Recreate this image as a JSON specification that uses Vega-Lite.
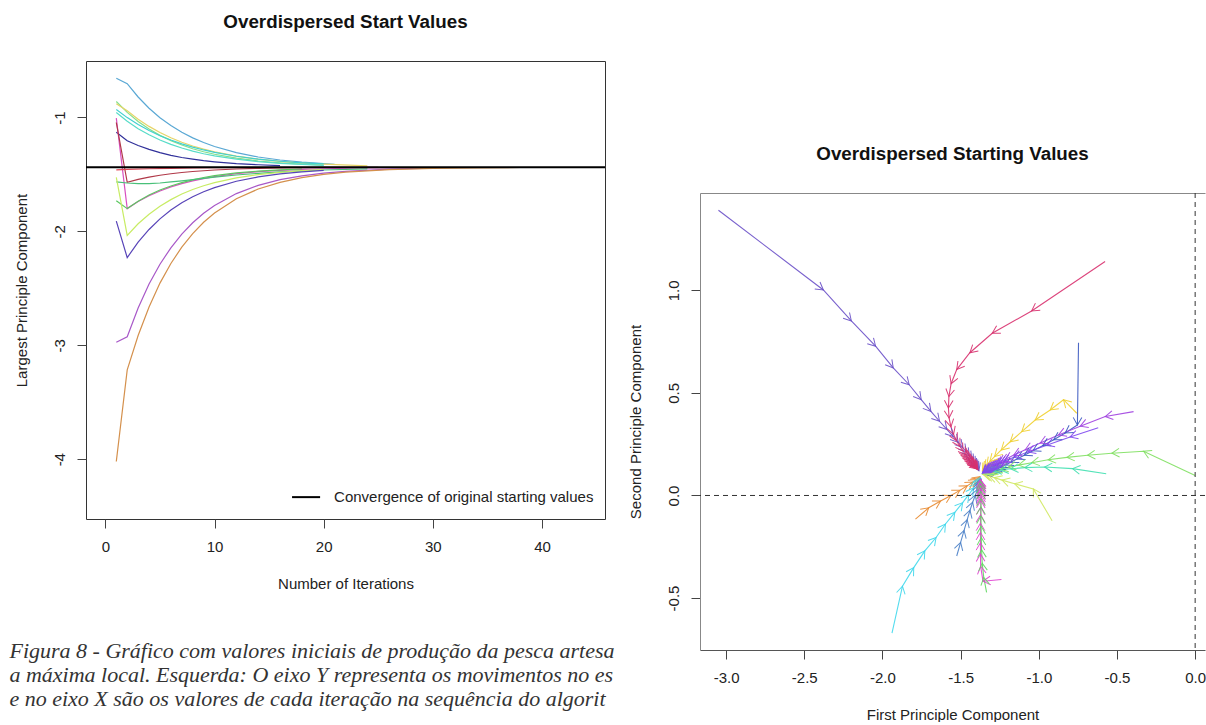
{
  "$schema": "https://vega.github.io/schema/vega-lite/v6.json",
  "padding": {"left": 8, "top": 12, "right": 0, "bottom": 0},
  "spacing": 7,
  "resolve": {"scale": {"color": "independent"}},
  "config": {
    "view": {"stroke": null},
    "font": "Liberation Sans",
    "title": {"fontSize": 18.8, "fontWeight": "bold", "color": "#111", "offset": 29},
    "axis": {
      "grid": false, "labelFontSize": 15, "titleFontSize": 15, "titleFontWeight": "normal",
      "labelColor": "#222", "titleColor": "#222", "tickColor": "#444", "domainColor": "#444",
      "tickSize": 9, "labelPadding": 11, "titlePadding": 22
    }
  },
  "datasets": {
    "left": [
      {"s":"A","x":1,"y":-0.655},{"s":"A","x":2,"y":-0.703},{"s":"A","x":3,"y":-0.820},{"s":"A","x":4,"y":-0.919},{"s":"A","x":5,"y":-1.002},{"s":"A","x":6,"y":-1.071},{"s":"A","x":7,"y":-1.130},{"s":"A","x":8,"y":-1.179},{"s":"A","x":9,"y":-1.220},{"s":"A","x":10,"y":-1.255},{"s":"A","x":12,"y":-1.309},{"s":"A","x":14,"y":-1.347},{"s":"A","x":16,"y":-1.373},{"s":"A","x":18,"y":-1.392},{"s":"A","x":20,"y":-1.405},{"s":"A","x":21,"y":-1.412},
      {"s":"B","x":1,"y":-0.860},{"s":"B","x":2,"y":-0.955},{"s":"B","x":3,"y":-1.035},{"s":"B","x":4,"y":-1.101},{"s":"B","x":5,"y":-1.157},{"s":"B","x":6,"y":-1.203},{"s":"B","x":7,"y":-1.241},{"s":"B","x":8,"y":-1.274},{"s":"B","x":9,"y":-1.301},{"s":"B","x":10,"y":-1.323},{"s":"B","x":12,"y":-1.357},{"s":"B","x":14,"y":-1.382},{"s":"B","x":16,"y":-1.398},{"s":"B","x":18,"y":-1.410},{"s":"B","x":20,"y":-1.418},
      {"s":"C","x":1,"y":-0.880},{"s":"C","x":2,"y":-0.940},{"s":"C","x":3,"y":-1.015},{"s":"C","x":4,"y":-1.078},{"s":"C","x":5,"y":-1.132},{"s":"C","x":6,"y":-1.178},{"s":"C","x":7,"y":-1.217},{"s":"C","x":8,"y":-1.250},{"s":"C","x":9,"y":-1.278},{"s":"C","x":10,"y":-1.302},{"s":"C","x":12,"y":-1.339},{"s":"C","x":14,"y":-1.366},{"s":"C","x":16,"y":-1.386},{"s":"C","x":18,"y":-1.400},{"s":"C","x":20,"y":-1.410},{"s":"C","x":24,"y":-1.425},
      {"s":"D","x":1,"y":-0.956},{"s":"D","x":2,"y":-1.033},{"s":"D","x":3,"y":-1.098},{"s":"D","x":4,"y":-1.152},{"s":"D","x":5,"y":-1.198},{"s":"D","x":6,"y":-1.236},{"s":"D","x":7,"y":-1.268},{"s":"D","x":8,"y":-1.295},{"s":"D","x":9,"y":-1.318},{"s":"D","x":10,"y":-1.337},{"s":"D","x":12,"y":-1.366},{"s":"D","x":14,"y":-1.387},{"s":"D","x":16,"y":-1.402},{"s":"D","x":18,"y":-1.412},{"s":"D","x":20,"y":-1.420},
      {"s":"E","x":1,"y":-0.930},{"s":"E","x":2,"y":-1.001},{"s":"E","x":3,"y":-1.062},{"s":"E","x":4,"y":-1.114},{"s":"E","x":5,"y":-1.160},{"s":"E","x":6,"y":-1.198},{"s":"E","x":7,"y":-1.232},{"s":"E","x":8,"y":-1.260},{"s":"E","x":9,"y":-1.285},{"s":"E","x":10,"y":-1.306},{"s":"E","x":12,"y":-1.340},{"s":"E","x":14,"y":-1.366},{"s":"E","x":16,"y":-1.384},{"s":"E","x":18,"y":-1.398},{"s":"E","x":20,"y":-1.408},
      {"s":"F","x":1,"y":-1.130},{"s":"F","x":2,"y":-1.204},{"s":"F","x":3,"y":-1.246},{"s":"F","x":4,"y":-1.280},{"s":"F","x":5,"y":-1.309},{"s":"F","x":6,"y":-1.332},{"s":"F","x":7,"y":-1.351},{"s":"F","x":8,"y":-1.366},{"s":"F","x":9,"y":-1.379},{"s":"F","x":10,"y":-1.389},{"s":"F","x":12,"y":-1.405},{"s":"F","x":14,"y":-1.415},{"s":"F","x":16,"y":-1.422},
      {"s":"G","x":1,"y":-1.005},{"s":"G","x":2,"y":-1.800},{"s":"G","x":3,"y":-1.738},{"s":"G","x":4,"y":-1.687},{"s":"G","x":5,"y":-1.645},{"s":"G","x":6,"y":-1.609},{"s":"G","x":7,"y":-1.580},{"s":"G","x":8,"y":-1.556},{"s":"G","x":9,"y":-1.536},{"s":"G","x":10,"y":-1.519},{"s":"G","x":12,"y":-1.493},{"s":"G","x":14,"y":-1.476},{"s":"G","x":16,"y":-1.464},{"s":"G","x":18,"y":-1.455},{"s":"G","x":20,"y":-1.450},{"s":"G","x":24,"y":-1.443},{"s":"G","x":28,"y":-1.440},
      {"s":"G2","x":1,"y":-1.730},{"s":"G2","x":2,"y":-1.800},{"s":"G2","x":3,"y":-1.735},{"s":"G2","x":4,"y":-1.681},{"s":"G2","x":5,"y":-1.637},{"s":"G2","x":6,"y":-1.601},{"s":"G2","x":7,"y":-1.572},{"s":"G2","x":8,"y":-1.547},{"s":"G2","x":9,"y":-1.527},{"s":"G2","x":10,"y":-1.511},{"s":"G2","x":12,"y":-1.487},{"s":"G2","x":14,"y":-1.471},{"s":"G2","x":16,"y":-1.460},{"s":"G2","x":18,"y":-1.452},
      {"s":"H","x":1,"y":-1.044},{"s":"H","x":2,"y":-1.569},{"s":"H","x":3,"y":-1.544},{"s":"H","x":4,"y":-1.524},{"s":"H","x":5,"y":-1.507},{"s":"H","x":6,"y":-1.494},{"s":"H","x":7,"y":-1.483},{"s":"H","x":8,"y":-1.474},{"s":"H","x":10,"y":-1.461},{"s":"H","x":12,"y":-1.452},{"s":"H","x":14,"y":-1.446},{"s":"H","x":16,"y":-1.442},{"s":"H","x":20,"y":-1.439},
      {"s":"H2","x":1,"y":-1.565},{"s":"H2","x":2,"y":-1.575},{"s":"H2","x":3,"y":-1.580},{"s":"H2","x":4,"y":-1.580},{"s":"H2","x":5,"y":-1.575},{"s":"H2","x":6,"y":-1.566},{"s":"H2","x":7,"y":-1.556},{"s":"H2","x":8,"y":-1.545},{"s":"H2","x":10,"y":-1.524},{"s":"H2","x":12,"y":-1.505},{"s":"H2","x":14,"y":-1.490},{"s":"H2","x":16,"y":-1.478},{"s":"H2","x":18,"y":-1.468},{"s":"H2","x":20,"y":-1.461},{"s":"H2","x":24,"y":-1.451},
      {"s":"I","x":1,"y":-1.460},{"s":"I","x":2,"y":-1.456},{"s":"I","x":4,"y":-1.450},{"s":"I","x":6,"y":-1.446},{"s":"I","x":8,"y":-1.443},{"s":"I","x":10,"y":-1.441},{"s":"I","x":14,"y":-1.439},{"s":"I","x":20,"y":-1.438},{"s":"I","x":25,"y":-1.437},
      {"s":"J","x":1,"y":-1.525},{"s":"J","x":2,"y":-2.035},{"s":"J","x":3,"y":-1.933},{"s":"J","x":4,"y":-1.849},{"s":"J","x":5,"y":-1.779},{"s":"J","x":6,"y":-1.721},{"s":"J","x":7,"y":-1.672},{"s":"J","x":8,"y":-1.632},{"s":"J","x":9,"y":-1.599},{"s":"J","x":10,"y":-1.572},{"s":"J","x":12,"y":-1.530},{"s":"J","x":14,"y":-1.501},{"s":"J","x":16,"y":-1.481},{"s":"J","x":18,"y":-1.467},{"s":"J","x":20,"y":-1.458},
      {"s":"K","x":1,"y":-1.910},{"s":"K","x":2,"y":-2.230},{"s":"K","x":3,"y":-2.095},{"s":"K","x":4,"y":-1.983},{"s":"K","x":5,"y":-1.890},{"s":"K","x":6,"y":-1.813},{"s":"K","x":7,"y":-1.749},{"s":"K","x":8,"y":-1.696},{"s":"K","x":9,"y":-1.652},{"s":"K","x":10,"y":-1.616},{"s":"K","x":12,"y":-1.560},{"s":"K","x":14,"y":-1.522},{"s":"K","x":16,"y":-1.495},{"s":"K","x":18,"y":-1.477},{"s":"K","x":20,"y":-1.465},
      {"s":"L","x":1,"y":-2.974},{"s":"L","x":2,"y":-2.925},{"s":"L","x":3,"y":-2.672},{"s":"L","x":4,"y":-2.462},{"s":"L","x":5,"y":-2.288},{"s":"L","x":6,"y":-2.144},{"s":"L","x":7,"y":-2.024},{"s":"L","x":8,"y":-1.924},{"s":"L","x":9,"y":-1.841},{"s":"L","x":10,"y":-1.772},{"s":"L","x":12,"y":-1.668},{"s":"L","x":14,"y":-1.596},{"s":"L","x":16,"y":-1.546},{"s":"L","x":18,"y":-1.513},{"s":"L","x":20,"y":-1.489},{"s":"L","x":22,"y":-1.473},{"s":"L","x":26,"y":-1.454},{"s":"L","x":30,"y":-1.445},
      {"s":"M","x":1,"y":-4.020},{"s":"M","x":2,"y":-3.216},{"s":"M","x":3,"y":-2.914},{"s":"M","x":4,"y":-2.663},{"s":"M","x":5,"y":-2.454},{"s":"M","x":6,"y":-2.282},{"s":"M","x":7,"y":-2.138},{"s":"M","x":8,"y":-2.019},{"s":"M","x":9,"y":-1.920},{"s":"M","x":10,"y":-1.838},{"s":"M","x":12,"y":-1.713},{"s":"M","x":14,"y":-1.628},{"s":"M","x":16,"y":-1.569},{"s":"M","x":18,"y":-1.528},{"s":"M","x":20,"y":-1.500},{"s":"M","x":22,"y":-1.480},{"s":"M","x":26,"y":-1.458},{"s":"M","x":30,"y":-1.447},{"s":"M","x":34,"y":-1.442},{"s":"M","x":38,"y":-1.439}
    ],
    "right": [
      {"t":"T1","i":0,"x":-3.049,"y":1.391},{"t":"T1","i":1,"x":-2.378,"y":1.002},{"t":"T1","i":2,"x":-2.199,"y":0.851},{"t":"T1","i":3,"x":-2.044,"y":0.728},{"t":"T1","i":4,"x":-1.931,"y":0.622},{"t":"T1","i":5,"x":-1.829,"y":0.540},{"t":"T1","i":6,"x":-1.752,"y":0.467},{"t":"T1","i":7,"x":-1.690,"y":0.410},{"t":"T1","i":8,"x":-1.635,"y":0.362},{"t":"T1","i":9,"x":-1.588,"y":0.322},{"t":"T1","i":10,"x":-1.548,"y":0.288},{"t":"T1","i":11,"x":-1.515,"y":0.259},{"t":"T1","i":12,"x":-1.487,"y":0.234},{"t":"T1","i":13,"x":-1.463,"y":0.212},{"t":"T1","i":14,"x":-1.444,"y":0.193},{"t":"T1","i":15,"x":-1.428,"y":0.177},{"t":"T1","i":16,"x":-1.415,"y":0.163},{"t":"T1","i":17,"x":-1.405,"y":0.151},{"t":"T1","i":18,"x":-1.397,"y":0.141},{"t":"T1","i":19,"x":-1.391,"y":0.133},{"t":"T1","i":20,"x":-1.386,"y":0.126},{"t":"T1","i":21,"x":-1.383,"y":0.120},
      {"t":"T2","i":0,"x":-0.576,"y":1.141},{"t":"T2","i":1,"x":-1.046,"y":0.900},{"t":"T2","i":2,"x":-1.298,"y":0.791},{"t":"T2","i":3,"x":-1.441,"y":0.696},{"t":"T2","i":4,"x":-1.525,"y":0.614},{"t":"T2","i":5,"x":-1.561,"y":0.545},{"t":"T2","i":6,"x":-1.575,"y":0.482},{"t":"T2","i":7,"x":-1.578,"y":0.427},{"t":"T2","i":8,"x":-1.574,"y":0.378},{"t":"T2","i":9,"x":-1.562,"y":0.335},{"t":"T2","i":10,"x":-1.545,"y":0.298},{"t":"T2","i":11,"x":-1.525,"y":0.266},{"t":"T2","i":12,"x":-1.504,"y":0.239},{"t":"T2","i":13,"x":-1.484,"y":0.216},{"t":"T2","i":14,"x":-1.466,"y":0.197},{"t":"T2","i":15,"x":-1.458,"y":0.189},{"t":"T2","i":16,"x":-1.450,"y":0.181},{"t":"T2","i":17,"x":-1.443,"y":0.174},{"t":"T2","i":18,"x":-1.436,"y":0.168},{"t":"T2","i":19,"x":-1.430,"y":0.162},{"t":"T2","i":20,"x":-1.424,"y":0.157},{"t":"T2","i":21,"x":-1.419,"y":0.152},{"t":"T2","i":22,"x":-1.414,"y":0.148},{"t":"T2","i":23,"x":-1.410,"y":0.144},{"t":"T2","i":24,"x":-1.406,"y":0.141},{"t":"T2","i":25,"x":-1.402,"y":0.138},{"t":"T2","i":26,"x":-1.399,"y":0.135},{"t":"T2","i":27,"x":-1.396,"y":0.132},{"t":"T2","i":28,"x":-1.393,"y":0.130},{"t":"T2","i":29,"x":-1.391,"y":0.128},{"t":"T2","i":30,"x":-1.389,"y":0.126},
      {"t":"T3","i":0,"x":-0.746,"y":0.745},{"t":"T3","i":1,"x":-0.753,"y":0.344},{"t":"T3","i":2,"x":-0.831,"y":0.305},{"t":"T3","i":3,"x":-0.905,"y":0.272},{"t":"T3","i":4,"x":-0.975,"y":0.243},{"t":"T3","i":5,"x":-1.038,"y":0.218},{"t":"T3","i":6,"x":-1.093,"y":0.196},{"t":"T3","i":7,"x":-1.140,"y":0.178},{"t":"T3","i":8,"x":-1.180,"y":0.162},{"t":"T3","i":9,"x":-1.214,"y":0.149},{"t":"T3","i":10,"x":-1.243,"y":0.138},{"t":"T3","i":11,"x":-1.267,"y":0.129},{"t":"T3","i":12,"x":-1.288,"y":0.122},{"t":"T3","i":13,"x":-1.305,"y":0.116},{"t":"T3","i":14,"x":-1.320,"y":0.111},{"t":"T3","i":15,"x":-1.332,"y":0.107},{"t":"T3","i":16,"x":-1.342,"y":0.104},{"t":"T3","i":17,"x":-1.350,"y":0.102},
      {"t":"T4","i":0,"x":-0.394,"y":0.409},{"t":"T4","i":1,"x":-0.575,"y":0.385},{"t":"T4","i":2,"x":-0.735,"y":0.338},{"t":"T4","i":3,"x":-0.874,"y":0.295},{"t":"T4","i":4,"x":-0.991,"y":0.256},{"t":"T4","i":5,"x":-1.087,"y":0.223},{"t":"T4","i":6,"x":-1.160,"y":0.197},{"t":"T4","i":7,"x":-1.215,"y":0.176},{"t":"T4","i":8,"x":-1.238,"y":0.168},{"t":"T4","i":9,"x":-1.255,"y":0.160},{"t":"T4","i":10,"x":-1.271,"y":0.153},{"t":"T4","i":11,"x":-1.285,"y":0.147},{"t":"T4","i":12,"x":-1.297,"y":0.142},{"t":"T4","i":13,"x":-1.308,"y":0.137},{"t":"T4","i":14,"x":-1.317,"y":0.133},{"t":"T4","i":15,"x":-1.325,"y":0.129},{"t":"T4","i":16,"x":-1.332,"y":0.126},{"t":"T4","i":17,"x":-1.338,"y":0.123},{"t":"T4","i":18,"x":-1.343,"y":0.120},{"t":"T4","i":19,"x":-1.348,"y":0.118},{"t":"T4","i":20,"x":-1.352,"y":0.116},{"t":"T4","i":21,"x":-1.355,"y":0.114},
      {"t":"T5","i":0,"x":-0.757,"y":0.401},{"t":"T5","i":1,"x":-0.842,"y":0.467},{"t":"T5","i":2,"x":-0.927,"y":0.417},{"t":"T5","i":3,"x":-1.023,"y":0.368},{"t":"T5","i":4,"x":-1.109,"y":0.311},{"t":"T5","i":5,"x":-1.183,"y":0.262},{"t":"T5","i":6,"x":-1.240,"y":0.222},{"t":"T5","i":7,"x":-1.283,"y":0.190},{"t":"T5","i":8,"x":-1.313,"y":0.166},{"t":"T5","i":9,"x":-1.333,"y":0.148},{"t":"T5","i":10,"x":-1.346,"y":0.135},{"t":"T5","i":11,"x":-1.355,"y":0.126},{"t":"T5","i":12,"x":-1.361,"y":0.119},
      {"t":"T6","i":0,"x":0.0,"y":0.098},{"t":"T6","i":1,"x":-0.330,"y":0.216},{"t":"T6","i":2,"x":-0.533,"y":0.206},{"t":"T6","i":3,"x":-0.688,"y":0.196},{"t":"T6","i":4,"x":-0.820,"y":0.186},{"t":"T6","i":5,"x":-0.940,"y":0.174},{"t":"T6","i":6,"x":-1.045,"y":0.160},{"t":"T6","i":7,"x":-1.130,"y":0.148},{"t":"T6","i":8,"x":-1.195,"y":0.137},{"t":"T6","i":9,"x":-1.245,"y":0.128},{"t":"T6","i":10,"x":-1.282,"y":0.121},{"t":"T6","i":11,"x":-1.310,"y":0.116},{"t":"T6","i":12,"x":-1.330,"y":0.112},{"t":"T6","i":13,"x":-1.345,"y":0.109},{"t":"T6","i":14,"x":-1.355,"y":0.106},
      {"t":"T7","i":0,"x":-0.569,"y":0.106},{"t":"T7","i":1,"x":-0.784,"y":0.131},{"t":"T7","i":2,"x":-0.963,"y":0.139},{"t":"T7","i":3,"x":-1.090,"y":0.136},{"t":"T7","i":4,"x":-1.180,"y":0.130},{"t":"T7","i":5,"x":-1.243,"y":0.124},{"t":"T7","i":6,"x":-1.287,"y":0.119},{"t":"T7","i":7,"x":-1.317,"y":0.115},{"t":"T7","i":8,"x":-1.338,"y":0.111},{"t":"T7","i":9,"x":-1.352,"y":0.108},{"t":"T7","i":10,"x":-1.361,"y":0.105},
      {"t":"T8","i":0,"x":-0.915,"y":-0.123},{"t":"T8","i":1,"x":-1.035,"y":0.032},{"t":"T8","i":2,"x":-1.155,"y":0.057},{"t":"T8","i":3,"x":-1.235,"y":0.075},{"t":"T8","i":4,"x":-1.285,"y":0.087},{"t":"T8","i":5,"x":-1.318,"y":0.095},{"t":"T8","i":6,"x":-1.338,"y":0.100},{"t":"T8","i":7,"x":-1.351,"y":0.103},{"t":"T8","i":8,"x":-1.360,"y":0.104},
      {"t":"T9","i":0,"x":-1.789,"y":-0.115},{"t":"T9","i":1,"x":-1.704,"y":-0.060},{"t":"T9","i":2,"x":-1.628,"y":-0.027},{"t":"T9","i":3,"x":-1.562,"y":0.000},{"t":"T9","i":4,"x":-1.505,"y":0.025},{"t":"T9","i":5,"x":-1.458,"y":0.047},{"t":"T9","i":6,"x":-1.421,"y":0.066},{"t":"T9","i":7,"x":-1.398,"y":0.078},{"t":"T9","i":8,"x":-1.384,"y":0.087},{"t":"T9","i":9,"x":-1.376,"y":0.092},
      {"t":"T10","i":0,"x":-1.939,"y":-0.671},{"t":"T10","i":1,"x":-1.872,"y":-0.442},{"t":"T10","i":2,"x":-1.800,"y":-0.352},{"t":"T10","i":3,"x":-1.729,"y":-0.270},{"t":"T10","i":4,"x":-1.657,"y":-0.205},{"t":"T10","i":5,"x":-1.597,"y":-0.139},{"t":"T10","i":6,"x":-1.537,"y":-0.082},{"t":"T10","i":7,"x":-1.487,"y":-0.035},{"t":"T10","i":8,"x":-1.447,"y":0.005},{"t":"T10","i":9,"x":-1.417,"y":0.037},{"t":"T10","i":10,"x":-1.395,"y":0.061},{"t":"T10","i":11,"x":-1.382,"y":0.077},{"t":"T10","i":12,"x":-1.374,"y":0.088},
      {"t":"T11","i":0,"x":-1.525,"y":-0.295},{"t":"T11","i":1,"x":-1.500,"y":-0.229},{"t":"T11","i":2,"x":-1.478,"y":-0.170},{"t":"T11","i":3,"x":-1.458,"y":-0.118},{"t":"T11","i":4,"x":-1.440,"y":-0.072},{"t":"T11","i":5,"x":-1.423,"y":-0.033},{"t":"T11","i":6,"x":-1.406,"y":0.002},{"t":"T11","i":7,"x":-1.392,"y":0.030},{"t":"T11","i":8,"x":-1.382,"y":0.053},{"t":"T11","i":9,"x":-1.375,"y":0.070},{"t":"T11","i":10,"x":-1.370,"y":0.082},
      {"t":"T12","i":0,"x":-1.239,"y":-0.410},{"t":"T12","i":1,"x":-1.357,"y":-0.418},{"t":"T12","i":2,"x":-1.372,"y":-0.345},{"t":"T12","i":3,"x":-1.373,"y":-0.285},{"t":"T12","i":4,"x":-1.373,"y":-0.230},{"t":"T12","i":5,"x":-1.373,"y":-0.180},{"t":"T12","i":6,"x":-1.373,"y":-0.135},{"t":"T12","i":7,"x":-1.372,"y":-0.094},{"t":"T12","i":8,"x":-1.371,"y":-0.057},{"t":"T12","i":9,"x":-1.370,"y":-0.024},{"t":"T12","i":10,"x":-1.369,"y":-0.008},{"t":"T12","i":11,"x":-1.369,"y":0.005},{"t":"T12","i":12,"x":-1.369,"y":0.017},{"t":"T12","i":13,"x":-1.369,"y":0.028},{"t":"T12","i":14,"x":-1.369,"y":0.037},{"t":"T12","i":15,"x":-1.369,"y":0.046},{"t":"T12","i":16,"x":-1.370,"y":0.053},{"t":"T12","i":17,"x":-1.370,"y":0.060},{"t":"T12","i":18,"x":-1.371,"y":0.066},{"t":"T12","i":19,"x":-1.371,"y":0.071},{"t":"T12","i":20,"x":-1.372,"y":0.076},{"t":"T12","i":21,"x":-1.372,"y":0.080},
      {"t":"T13","i":0,"x":-1.334,"y":-0.472},{"t":"T13","i":1,"x":-1.352,"y":-0.400},{"t":"T13","i":2,"x":-1.362,"y":-0.330},{"t":"T13","i":3,"x":-1.366,"y":-0.265},{"t":"T13","i":4,"x":-1.368,"y":-0.205},{"t":"T13","i":5,"x":-1.369,"y":-0.150},{"t":"T13","i":6,"x":-1.370,"y":-0.100},{"t":"T13","i":7,"x":-1.370,"y":-0.055},{"t":"T13","i":8,"x":-1.370,"y":-0.015},{"t":"T13","i":9,"x":-1.370,"y":0.020},{"t":"T13","i":10,"x":-1.371,"y":0.048},{"t":"T13","i":11,"x":-1.372,"y":0.068},
      {"t":"T14","i":0,"x":-0.620,"y":0.330},{"t":"T14","i":1,"x":-0.800,"y":0.285},{"t":"T14","i":2,"x":-0.950,"y":0.245},{"t":"T14","i":3,"x":-1.070,"y":0.212},{"t":"T14","i":4,"x":-1.160,"y":0.186},{"t":"T14","i":5,"x":-1.225,"y":0.165},{"t":"T14","i":6,"x":-1.250,"y":0.157},{"t":"T14","i":7,"x":-1.270,"y":0.149},{"t":"T14","i":8,"x":-1.286,"y":0.143},{"t":"T14","i":9,"x":-1.300,"y":0.137},{"t":"T14","i":10,"x":-1.312,"y":0.132},{"t":"T14","i":11,"x":-1.322,"y":0.128},{"t":"T14","i":12,"x":-1.331,"y":0.124},{"t":"T14","i":13,"x":-1.338,"y":0.121},{"t":"T14","i":14,"x":-1.344,"y":0.118},{"t":"T14","i":15,"x":-1.349,"y":0.116},{"t":"T14","i":16,"x":-1.354,"y":0.114},{"t":"T14","i":17,"x":-1.357,"y":0.112},{"t":"T14","i":18,"x":-1.360,"y":0.110},{"t":"T14","i":19,"x":-1.362,"y":0.109}
    ]
  },
  "hconcat": [
    {
      "width": 519,
      "height": 458,
      "title": "Overdispersed Start Values",
      "view": {"stroke": "#333", "strokeWidth": 1},
      "layer": [
        {
          "data": {"name": "left"},
          "mark": {"type": "line", "strokeWidth": 1.2},
          "encoding": {
            "x": {"field": "x", "type": "quantitative", "scale": {"domain": [-1.776, 45.77], "nice": false, "zero": false},
                  "axis": {"values": [0, 10, 20, 30, 40], "title": "Number of Iterations", "domain": false}},
            "y": {"field": "y", "type": "quantitative", "scale": {"domain": [-4.525, -0.504], "nice": false, "zero": false},
                  "axis": {"values": [-1, -2, -3, -4], "title": "Largest Principle Component", "domain": false, "labelAngle": -90, "labelAlign": "center", "labelBaseline": "bottom", "labelPadding": 10, "titlePadding": 23, "labelExpr": "replace(datum.label, '\u2212', '-')"}},
            "color": {"field": "s", "type": "nominal", "legend": null,
                      "scale": {"domain": ["A","B","C","D","E","F","G","G2","H","H2","I","J","K","L","M"],
                                "range": ["#5aa8d4","#86e08a","#e6d468","#58dcc8","#40d0d0","#30309a","#d850c0","#5cc860","#b03848","#48c078","#e04858","#c8ec64","#5844b8","#a858c8","#d4904c"]}},
            "detail": {"field": "s"},
            "order": {"field": "x", "type": "quantitative"}
          }
        },
        {
          "data": {"values": [{"y": -1.437}]},
          "mark": {"type": "rule", "strokeWidth": 2, "color": "#000000"},
          "encoding": {
            "y": {"field": "y", "type": "quantitative", "scale": {"domain": [-4.525, -0.504], "nice": false, "zero": false},
                  "axis": {"values": [-1, -2, -3, -4], "title": "Largest Principle Component", "domain": false, "labelAngle": -90, "labelAlign": "center", "labelBaseline": "bottom", "labelPadding": 10, "titlePadding": 23, "labelExpr": "replace(datum.label, '\u2212', '-')"}}
          }
        },
        {
          "data": {"values": [{"x": 17.1, "x2": 19.67, "y": -4.333}]},
          "mark": {"type": "rule", "strokeWidth": 2, "color": "#000000"},
          "encoding": {
            "x": {"field": "x", "type": "quantitative", "scale": {"domain": [-1.776, 45.77], "nice": false, "zero": false},
                  "axis": {"values": [0, 10, 20, 30, 40], "title": "Number of Iterations", "domain": false}},
            "x2": {"field": "x2"},
            "y": {"field": "y", "type": "quantitative", "scale": {"domain": [-4.525, -0.504], "nice": false, "zero": false},
                  "axis": {"values": [-1, -2, -3, -4], "title": "Largest Principle Component", "domain": false, "labelAngle": -90, "labelAlign": "center", "labelBaseline": "bottom", "labelPadding": 10, "titlePadding": 23, "labelExpr": "replace(datum.label, '\u2212', '-')"}}
          }
        },
        {
          "data": {"values": [{"x": 20.95, "y": -4.333, "line": "Convergence of original starting values"}]},
          "mark": {"type": "text", "align": "left", "baseline": "middle", "fontSize": 15, "color": "#222"},
          "encoding": {
            "x": {"field": "x", "type": "quantitative", "scale": {"domain": [-1.776, 45.77], "nice": false, "zero": false},
                  "axis": {"values": [0, 10, 20, 30, 40], "title": "Number of Iterations", "domain": false}},
            "y": {"field": "y", "type": "quantitative", "scale": {"domain": [-4.525, -0.504], "nice": false, "zero": false},
                  "axis": {"values": [-1, -2, -3, -4], "title": "Largest Principle Component", "domain": false, "labelAngle": -90, "labelAlign": "center", "labelBaseline": "bottom", "labelPadding": 10, "titlePadding": 23, "labelExpr": "replace(datum.label, '\u2212', '-')"}},
            "text": {"field": "line"}
          }
        },
        {
          "data": {"values": [
            {"x": -8.79, "y": -5.683, "line": "Figura 8 - Gráfico com valores iniciais de produção da pesca artesanal em direção à"},
            {"x": -8.79, "y": -5.893, "line": "a máxima local. Esquerda: O eixo Y representa os movimentos no espaço de parâmetros"},
            {"x": -8.79, "y": -6.103, "line": "e no eixo X são os valores de cada iteração na sequência do algoritmo de otimização."}
          ]},
          "mark": {"type": "text", "align": "left", "baseline": "middle", "font": "Liberation Serif", "fontStyle": "italic", "fontSize": 22, "color": "#333", "limit": 617, "ellipsis": " "},
          "encoding": {
            "x": {"field": "x", "type": "quantitative", "scale": {"domain": [-1.776, 45.77], "nice": false, "zero": false},
                  "axis": {"values": [0, 10, 20, 30, 40], "title": "Number of Iterations", "domain": false}},
            "y": {"field": "y", "type": "quantitative", "scale": {"domain": [-4.525, -0.504], "nice": false, "zero": false},
                  "axis": {"values": [-1, -2, -3, -4], "title": "Largest Principle Component", "domain": false, "labelAngle": -90, "labelAlign": "center", "labelBaseline": "bottom", "labelPadding": 10, "titlePadding": 23, "labelExpr": "replace(datum.label, '\u2212', '-')"}},
            "text": {"field": "line"}
          }
        }
      ]
    },
    {
      "spacing": 20,
      "vconcat": [
        {"width": 1, "height": 63, "data": {"values": []}, "mark": "point"},
        {
          "width": 505,
          "height": 457,
          "title": "Overdispersed Starting Values",
          "resolve": {"axis": {"x": "independent"}},
          "layer": [
            {
              "data": {"name": "right"},
              "mark": {"type": "line", "strokeWidth": 1.1, "opacity": 0.9},
              "encoding": {
                "x": {"field": "x", "type": "quantitative", "scale": {"domain": [-3.167, 0.063], "nice": false, "zero": false},
                      "axis": {"values": [-3, -2.5, -2, -1.5, -1, -0.5, 0], "title": "First Principle Component", "domainColor": "#555",
                               "labelExpr": "replace(format(datum.value, '.1f'), '\u2212', '-')"}},
                "y": {"field": "y", "type": "quantitative", "scale": {"domain": [-0.7535, 1.475], "nice": false, "zero": false},
                      "axis": {"values": [-0.5, 0, 0.5, 1], "title": "Second Principle Component", "domainColor": "#888", "labelAngle": -90, "labelAlign": "center", "labelBaseline": "bottom", "labelPadding": 10, "titlePadding": 23,
                               "labelExpr": "replace(format(datum.value, '.1f'), '\u2212', '-')"}},
                "color": {"field": "t", "type": "nominal", "legend": null,
                          "scale": {"domain": ["T1","T2","T3","T4","T5","T6","T7","T8","T9","T10","T11","T12","T13","T14"],
                                    "range": ["#6a50c8","#d8306e","#3a58c0","#a040e0","#f0d030","#80e060","#40e0b0","#d0e860","#e88a30","#40d8ec","#4a80c8","#e040d0","#60d860","#8048f0"]}},
                "detail": {"field": "t"},
                "order": {"field": "i", "type": "quantitative"}
              }
            },
            {
              "data": {"name": "right"},
              "transform": [
                {"window": [{"op": "lag", "field": "x", "as": "px"}, {"op": "lag", "field": "y", "as": "py"}], "groupby": ["t"], "sort": [{"field": "i"}]},
                {"filter": "isValid(datum.px)"},
                {"calculate": "atan2(-(datum.y - datum.py) * 1.311, datum.x - datum.px) * 180 / PI", "as": "ang"}
              ],
              "mark": {"type": "point", "shape": "M-1,-0.577L0,0L-1,0.577", "filled": false, "size": 225, "strokeWidth": 1, "opacity": 0.9},
              "encoding": {
                "x": {"field": "x", "type": "quantitative", "scale": {"domain": [-3.167, 0.063], "nice": false, "zero": false}, "axis": null},
                "y": {"field": "y", "type": "quantitative", "scale": {"domain": [-0.7535, 1.475], "nice": false, "zero": false},
                      "axis": {"values": [-0.5, 0, 0.5, 1], "title": "Second Principle Component", "domainColor": "#888", "labelAngle": -90, "labelAlign": "center", "labelBaseline": "bottom", "labelPadding": 10, "titlePadding": 23,
                               "labelExpr": "replace(format(datum.value, '.1f'), '\u2212', '-')"}},
                "color": {"field": "t", "type": "nominal", "legend": null},
                "angle": {"field": "ang", "type": "quantitative", "scale": null}
              }
            },
            {
              "data": {"values": [{"x": 0}]},
              "mark": {"type": "rule", "strokeDash": [5, 4], "color": "#333", "strokeWidth": 1},
              "encoding": {
                "x": {"field": "x", "type": "quantitative", "scale": {"domain": [-3.167, 0.063], "nice": false, "zero": false},
                      "axis": {"orient": "top", "labels": false, "ticks": false, "title": null, "domainColor": "#888"}}
              }
            },
            {
              "data": {"values": [{"y": 0}]},
              "mark": {"type": "rule", "strokeDash": [5, 4], "color": "#333", "strokeWidth": 1},
              "encoding": {
                "y": {"field": "y", "type": "quantitative", "scale": {"domain": [-0.7535, 1.475], "nice": false, "zero": false},
                      "axis": {"values": [-0.5, 0, 0.5, 1], "title": "Second Principle Component", "domainColor": "#888", "labelAngle": -90, "labelAlign": "center", "labelBaseline": "bottom", "labelPadding": 10, "titlePadding": 23,
                               "labelExpr": "replace(format(datum.value, '.1f'), '\u2212', '-')"}}
              }
            }
          ]
        }
      ]
    }
  ]
}
